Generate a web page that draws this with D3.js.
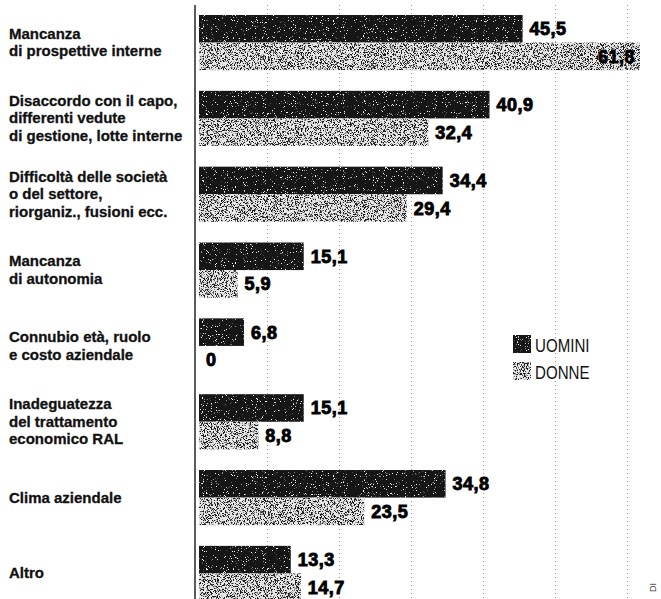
<!DOCTYPE html>
<html>
<head>
<meta charset="utf-8">
<script src="https://cdn.jsdelivr.net/npm/d3@7"></script>
<style>
  html, body { margin: 0; padding: 0; background: #fff; }
  svg { display: block; }
</style>
</head>
<body>
<svg id="chart"></svg>
<script>
const categories = [
  ["Mancanza", "di prospettive interne"],
  ["Disaccordo con il capo,", "differenti vedute", "di gestione, lotte interne"],
  ["Difficoltà delle società", "o del settore,", "riorganiz., fusioni ecc."],
  ["Mancanza", "di autonomia"],
  ["Connubio età, ruolo", "e costo aziendale"],
  ["Inadeguatezza", "del trattamento", "economico RAL"],
  ["Clima aziendale"],
  ["Altro"],
];
const uomini = [45.5, 40.9, 34.4, 15.1, 6.8, 15.1, 34.8, 13.3];
const donne = [61.8, 32.4, 29.4, 5.9, 0, 8.8, 23.5, 14.7];
const seriesNames = ["UOMINI", "DONNE"];
const gridTicks = [10, 20, 30, 40, 50, 60];

const width = 661;
const height = 599;

const svg = d3.select("#chart").attr("width", width).attr("height", height);
const defs = svg.append("defs");

// stipple texture (halftone look of the printed bars)
const speckle = (id, color, freq, k, t) => {
  const f = defs.append("filter").attr("id", id)
    .attr("x", 0).attr("y", 0).attr("width", 1).attr("height", 1)
    .attr("color-interpolation-filters", "sRGB");
  f.append("feTurbulence").attr("type", "fractalNoise")
    .attr("baseFrequency", freq).attr("numOctaves", 2).attr("seed", 3).attr("result", "n");
  const c = d3.color(color);
  const r = c.r / 255, g = c.g / 255, b = c.b / 255;
  f.append("feColorMatrix").attr("in", "n").attr("type", "matrix")
    .attr("values", `0 0 0 0 ${r}  0 0 0 0 ${g}  0 0 0 0 ${b}  ${k} 0 0 0 ${-k * t}`)
    .attr("result", "dots");
  f.append("feComposite").attr("in", "dots").attr("in2", "SourceAlpha").attr("operator", "in");
};
speckle("spk-dark", "#ffffff", 1.1, 12, 0.66);
speckle("spk-light", "#1a1a1a", 1.3, 9, 0.5);

const styles = [
  { base: "#161616", filter: "url(#spk-dark)" },
  { base: "#e8e8e8", filter: "url(#spk-light)" },
];

const x = d3.scaleLinear().domain([0, 60]).range([195, 627]);
const y = d3.scaleBand().domain(d3.range(categories.length)).range([15, 601])
  .paddingInner(0.273).paddingOuter(0);
const ySub = d3.scaleBand().domain([0, 1]).range([0, y.bandwidth()]);

const locale = d3.formatLocale({ decimal: ",", thousands: ".", grouping: [3], currency: ["", "€"] });
const fmt = (v) => (v === 0 ? "0" : locale.format(".1f")(v));

// grid
svg.append("g")
  .attr("transform", "translate(0,5)")
  .call(d3.axisBottom(x).tickValues(gridTicks).tickSize(height - 5).tickFormat(""))
  .call((g) => g.select(".domain").remove())
  .call((g) => g.selectAll(".tick line")
    .attr("stroke", "#777").attr("stroke-width", 0.8).attr("stroke-dasharray", "1,3"));

// axis line
svg.append("line")
  .attr("x1", x(0)).attr("x2", x(0)).attr("y1", 5).attr("y2", height)
  .attr("stroke", "#333").attr("stroke-width", 1.6);

const rows = categories.map((c, i) => ({ i, lines: c, vals: [uomini[i], donne[i]] }));
const barStart = x(0) + 4;

const group = svg.selectAll(".grp").data(rows).enter().append("g")
  .attr("class", "grp")
  .attr("transform", (d) => `translate(0,${y(d.i)})`);

const bars = group.selectAll(".bar")
  .data((d) => d.vals.map((v, s) => ({ v, s })))
  .enter();

[0, 1].forEach((layer) => {
  bars.append("rect")
    .attr("x", barStart)
    .attr("y", (d) => ySub(d.s))
    .attr("width", (d) => Math.max(0, x(d.v) - barStart))
    .attr("height", ySub.bandwidth())
    .attr("fill", (d) => (layer === 0 ? styles[d.s].base : "#000"))
    .attr("filter", (d) => (layer === 0 ? null : styles[d.s].filter));
});

// value labels
bars.append("text")
  .attr("font-family", "'Liberation Sans', Arial, sans-serif")
  .attr("font-weight", "bold")
  .attr("font-size", 18)
  .attr("letter-spacing", 0.5)
  .attr("stroke", "#000").attr("stroke-width", 0.9)
  .attr("fill", "#000")
  .attr("y", (d) => ySub(d.s) + ySub.bandwidth() / 2 + 6.5)
  .attr("x", (d) => {
    const end = Math.max(x(d.v), barStart);
    return end + 44 > width ? end - 5 : end + 7;
  })
  .attr("text-anchor", (d) => (Math.max(x(d.v), barStart) + 44 > width ? "end" : "start"))
  .text((d) => fmt(d.v));

// category labels
group.append("text")
  .attr("font-family", "'Liberation Sans', Arial, sans-serif")
  .attr("font-weight", "bold")
  .attr("font-size", 15)
  .attr("stroke", "#111").attr("stroke-width", 0.3)
  .attr("fill", "#111")
  .selectAll("tspan")
  .data((d) => d.lines.map((t, k) => ({ t, k, n: d.lines.length })))
  .enter().append("tspan")
  .attr("x", 9)
  .attr("y", (d) => y.bandwidth() / 2 + 5 + (d.k - (d.n - 1) / 2) * 17.5)
  .text((d) => d.t);

// legend
const legend = svg.append("g").attr("transform", "translate(513,335)");
seriesNames.forEach((name, s) => {
  const g = legend.append("g").attr("transform", `translate(0,${s * 27})`);
  g.append("rect").attr("width", 18).attr("height", 18).attr("fill", styles[s].base);
  g.append("rect").attr("width", 18).attr("height", 18).attr("fill", "#000").attr("filter", styles[s].filter);
  g.append("text")
    .attr("transform", "translate(22,17) scale(0.84,1)")
    .attr("font-family", "'Liberation Sans', Arial, sans-serif")
    .attr("font-size", 18)
    .attr("fill", "#111")
    .text(name);
});

// cut-off credit at the right edge
svg.append("text")
  .attr("transform", "translate(656,592) rotate(-90)")
  .attr("font-family", "'Liberation Sans', sans-serif")
  .attr("font-size", 9)
  .attr("fill", "#444")
  .text("DI");
</script>
</body>
</html>
